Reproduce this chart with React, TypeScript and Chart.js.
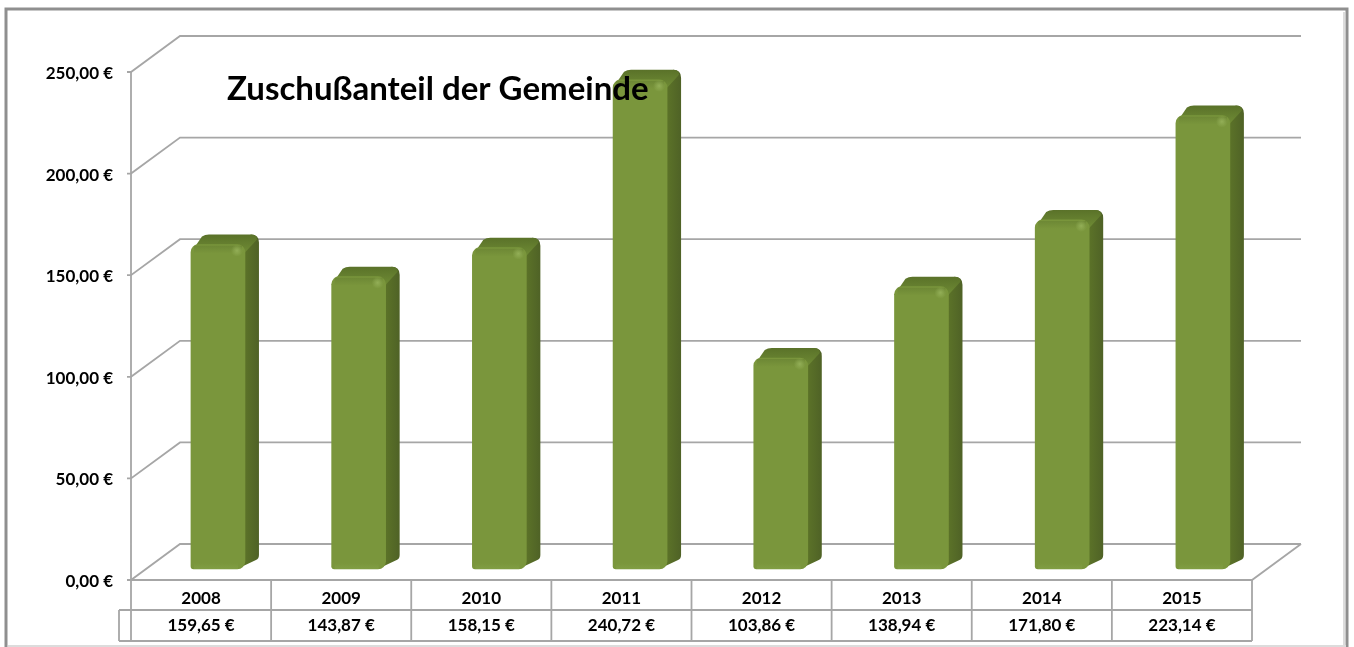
import React, { useEffect, useRef } from "react";
import { Chart, registerables } from "chart.js";

Chart.register(...registerables);

const years = ["2008", "2009", "2010", "2011", "2012", "2013", "2014", "2015"];
const amounts = [159.65, 143.87, 158.15, 240.72, 103.86, 138.94, 171.8, 223.14];
const amountLabels = ["159,65 €", "143,87 €", "158,15 €", "240,72 €", "103,86 €", "138,94 €", "171,80 €", "223,14 €"];
const axisTicks = [0, 50, 100, 150, 200, 250];
const titleText = "Zuschußanteil der Gemeinde";

const FONT = "Lato, 'Open Sans', sans-serif";
const GRID = "#a6a6a6";
const DX = 49, DY = -36;
const SIDE_X = 14, SIDE_Y = -10, R = 8;

function fmt(v: number) {
  return v.toFixed(2).replace(".", ",") + " €";
}

const decoration = {
  id: "decoration",
  beforeDraw(chart: any) {
    const { ctx, width, height, chartArea: a, scales } = chart;
    const y = scales.y;
    ctx.save();
    ctx.fillStyle = "#ffffff";
    ctx.fillRect(0, 0, width, height);
    // frame
    ctx.strokeStyle = "#8f8f8f";
    ctx.lineWidth = 3;
    ctx.beginPath();
    ctx.moveTo(6, height);
    ctx.lineTo(6, 9);
    ctx.lineTo(1347, 9);
    ctx.lineTo(1347, height);
    ctx.stroke();
    ctx.strokeStyle = "#dcdcdc";
    ctx.lineWidth = 2;
    ctx.beginPath();
    ctx.moveTo(1344, 12);
    ctx.lineTo(1344, height);
    ctx.moveTo(8, 646);
    ctx.lineTo(1346, 646);
    ctx.stroke();
    // walls and gridlines
    ctx.strokeStyle = GRID;
    ctx.lineWidth = 1.8;
    axisTicks.forEach((t) => {
      const p = y.getPixelForValue(t);
      ctx.beginPath();
      ctx.moveTo(a.left - 4, p);
      ctx.lineTo(a.left, p);
      ctx.lineTo(a.left + DX, p + DY);
      ctx.lineTo(a.right + DX, p + DY);
      ctx.stroke();
    });
    const p0 = y.getPixelForValue(0);
    ctx.beginPath();
    ctx.moveTo(a.left, y.getPixelForValue(250));
    ctx.lineTo(a.left, p0);
    ctx.lineTo(a.right, p0);
    ctx.lineTo(a.right + DX, p0 + DY);
    ctx.stroke();
    // data table
    const band = (a.right - a.left) / years.length;
    const rowA = 610, rowB = 641;
    ctx.beginPath();
    ctx.moveTo(119, rowA);
    ctx.lineTo(a.right, rowA);
    ctx.moveTo(119, rowB);
    ctx.lineTo(a.right, rowB);
    ctx.moveTo(119, rowA);
    ctx.lineTo(119, rowB);
    for (let i = 0; i <= years.length; i++) {
      const x = a.left + band * i;
      ctx.moveTo(x, p0);
      ctx.lineTo(x, rowB);
    }
    ctx.stroke();
    ctx.restore();
  },
  beforeDatasetDraw(chart: any) {
    const { ctx } = chart;
    ctx.save();
    chart.getDatasetMeta(0).data.forEach((bar: any) => {
      const l = bar.x - bar.width / 2, r = bar.x + bar.width / 2, t = bar.y, b = bar.base;
      // side face
      const sg = ctx.createLinearGradient(r - 4, 0, r + SIDE_X, 0);
      sg.addColorStop(0, "#5f7729");
      sg.addColorStop(1, "#4f6226");
      ctx.fillStyle = sg;
      ctx.beginPath();
      ctx.moveTo(r - R, b);
      ctx.lineTo(r + SIDE_X - 3, b + SIDE_Y + 1);
      ctx.quadraticCurveTo(r + SIDE_X, b + SIDE_Y, r + SIDE_X, b + SIDE_Y - 4);
      ctx.lineTo(r + SIDE_X, t + SIDE_Y + R);
      ctx.quadraticCurveTo(r + SIDE_X, t + SIDE_Y, r + SIDE_X - R, t + SIDE_Y);
      ctx.lineTo(r - R, t);
      ctx.closePath();
      ctx.fill();
      // top face
      const tg = ctx.createLinearGradient(0, t + SIDE_Y, 0, t + 8);
      tg.addColorStop(0, "#5a7229");
      tg.addColorStop(1, "#6f8b35");
      ctx.fillStyle = tg;
      ctx.beginPath();
      ctx.moveTo(l, t + R);
      ctx.lineTo(l + SIDE_X - 3, t + SIDE_Y + 2);
      ctx.quadraticCurveTo(l + SIDE_X, t + SIDE_Y, l + SIDE_X + 4, t + SIDE_Y);
      ctx.lineTo(r + SIDE_X - R, t + SIDE_Y);
      ctx.quadraticCurveTo(r + SIDE_X - 2, t + SIDE_Y, r + SIDE_X - 2, t + SIDE_Y + 5);
      ctx.lineTo(r, t + R);
      ctx.closePath();
      ctx.fill();
    });
  },
  afterDatasetDraw(chart: any) {
    const { ctx } = chart;
    chart.getDatasetMeta(0).data.forEach((bar: any) => {
      const l = bar.x - bar.width / 2, r = bar.x + bar.width / 2, t = bar.y, b = bar.base;
      // soft shading at the top and the bottom of the front face
      const tg = ctx.createLinearGradient(0, t, 0, t + 9);
      tg.addColorStop(0, "rgba(104,130,50,0.8)");
      tg.addColorStop(1, "rgba(104,130,50,0)");
      ctx.fillStyle = tg;
      ctx.fillRect(l + 3, t + 1, bar.width - 6, 8);
      const bg = ctx.createLinearGradient(0, b - 6, 0, b);
      bg.addColorStop(0, "rgba(135,165,75,0)");
      bg.addColorStop(1, "rgba(135,165,75,0.5)");
      ctx.fillStyle = bg;
      ctx.fillRect(l + 3, b - 6, bar.width - 10, 6);
      // highlight
      const g = ctx.createRadialGradient(r - 8, t + 6, 0, r - 8, t + 6, 6);
      g.addColorStop(0, "rgba(150,178,90,0.9)");
      g.addColorStop(1, "rgba(150,178,90,0)");
      ctx.fillStyle = g;
      ctx.fillRect(r - 14, t, 12, 12);
    });
    ctx.restore();
  },
  afterDraw(chart: any) {
    const { ctx } = chart;
    ctx.save();
    ctx.fillStyle = "#000000";
    ctx.font = `bold 33px ${FONT}`;
    ctx.textAlign = "left";
    ctx.textBaseline = "middle";
    ctx.fillText(titleText, 227, 89);
    ctx.restore();
  },
};

function barFill(c: any) {
  const bar = c.element;
  if (!bar || bar.width === undefined) return "#7a963c";
  const l = bar.x - bar.width / 2;
  const g = c.chart.ctx.createLinearGradient(l, 0, l + bar.width, 0);
  g.addColorStop(0, "#6f8b35");
  g.addColorStop(0.12, "#7a963c");
  g.addColorStop(0.8, "#7b973d");
  g.addColorStop(1, "#66802f");
  return g;
}

export default function App() {
  const ref = useRef<HTMLCanvasElement>(null);
  useEffect(() => {
    const chart = new Chart(ref.current!, {
      type: "bar",
      data: {
        labels: years,
        datasets: [
          {
            data: amounts.map((v, i) => ({ x: i, y: v })),
            xAxisID: "xBars",
            yAxisID: "yBars",
            backgroundColor: barFill,
            borderRadius: { topLeft: R, topRight: R, bottomLeft: 3, bottomRight: 8 },
            borderSkipped: false,
            barThickness: 54,
            clip: false,
          },
        ],
      },
      options: {
        responsive: false,
        animation: false,
        layout: { padding: { left: 0, right: 102, top: 72, bottom: 0 } },
        plugins: { legend: { display: false }, tooltip: { enabled: false }, title: { display: false } },
        scales: {
          x: {
            grid: { display: false, drawTicks: false },
            border: { display: false },
            afterFit: (s: any) => { s.height = 67; },
            ticks: {
              maxRotation: 0,
              padding: 5,
              color: "#000000",
              font: { family: FONT, weight: "bold", size: 17, lineHeight: 1.59 },
              callback: (_v: any, i: number) => [years[i], amountLabels[i]],
            },
          },
          xBars: { type: "linear", display: false, offset: false, min: -0.618, max: 7.349 },
          y: {
            min: 0,
            max: 250,
            grid: { display: false, drawTicks: false },
            border: { display: false },
            afterFit: (s: any) => { s.width = 131; },
            afterBuildTicks: (s: any) => { s.ticks = axisTicks.map((value) => ({ value })); },
            ticks: {
              padding: 18,
              labelOffset: 1.5,
              color: "#000000",
              font: { family: FONT, weight: "bold", size: 17 },
              callback: (v: any) => fmt(Number(v)),
            },
          },
          yBars: { display: false, min: -5.41, max: 244.59 },
        },
      },
      plugins: [decoration],
    } as any);
    return () => chart.destroy();
  }, []);
  return (
    <div style={{ position: "fixed", left: 0, top: 0, width: 1354, height: 647 }}>
      <canvas ref={ref} width={1354} height={647} style={{ display: "block", filter: "blur(0.5px)" }} />
    </div>
  );
}
